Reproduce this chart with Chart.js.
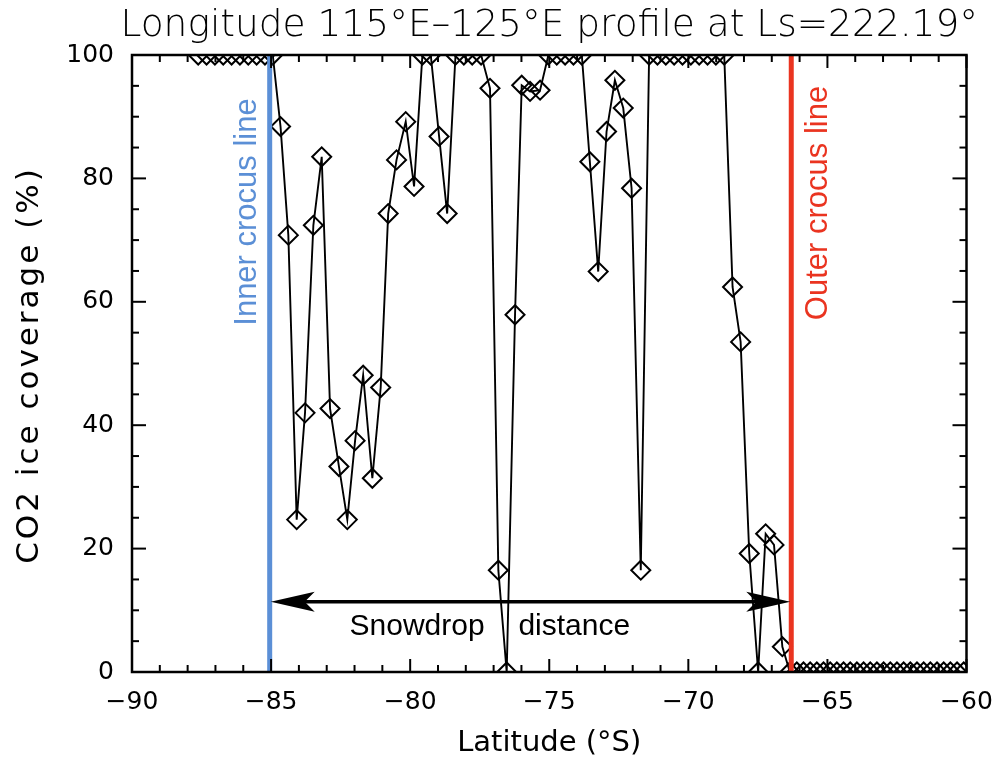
<!DOCTYPE html>
<html><head><meta charset="utf-8">
<script src="https://cdn.jsdelivr.net/npm/chart.js@4"></script>
<style>html,body{margin:0;padding:0;background:#fff;overflow:hidden;} canvas{display:block;}</style>
</head><body>
<canvas id="c" width="1002" height="763"></canvas>
<script>
// ---- data ----
const latitude = [
  -87.62, -87.32, -87.02, -86.72, -86.42, -86.12, -85.82, -85.52, -85.22, -84.94,
  -84.66, -84.38, -84.08, -83.78, -83.48, -83.18, -82.88, -82.56, -82.26, -81.98,
  -81.69, -81.36, -81.06, -80.79, -80.49, -80.16, -79.86, -79.56, -79.26, -78.96,
  -78.67, -78.37, -78.07, -77.77, -77.45, -77.13, -76.83, -76.53, -76.23, -75.99,
  -75.69, -75.33, -75.03, -74.73, -74.43, -74.13, -73.83, -73.54, -73.24, -72.94,
  -72.64, -72.34, -72.04, -71.71, -71.41, -71.11, -70.81, -70.51, -70.21, -69.91,
  -69.61, -69.31, -69.01, -68.71, -68.41, -68.12, -67.81, -67.49, -67.22, -66.92,
  -66.62, -66.35, -66.10, -65.86, -65.62, -65.38, -65.14, -64.90, -64.66, -64.42,
  -64.18, -63.94, -63.70, -63.46, -63.22, -62.98, -62.74, -62.50, -62.26, -62.02,
  -61.78, -61.54, -61.30, -61.06, -60.82, -60.58, -60.34, -60.10
];
const coverage = [
  100, 100, 100, 100, 100, 100, 100, 100, 100, 100,
  88.4, 70.8, 24.7, 42.0, 72.4, 83.5, 42.7, 33.3, 24.7, 37.5,
  48.1, 31.4, 46.1, 74.3, 83.0, 89.2, 78.7, 100, 100, 86.8,
  74.3, 100, 100, 100, 100, 94.6, 16.5, 0, 57.9, 95.1,
  94.1, 94.3, 100, 100, 100, 100, 100, 82.7, 64.9, 87.6,
  95.9, 91.4, 78.4, 16.5, 100, 100, 100, 100, 100, 100,
  100, 100, 100, 100, 62.4, 53.5, 19.2, 0, 22.4, 20.6,
  4.1, 0, 0, 0, 0, 0, 0, 0, 0, 0,
  0, 0, 0, 0, 0, 0, 0, 0, 0, 0,
  0, 0, 0, 0, 0, 0, 0, 0
];
const xTickValues = [-90, -85, -80, -75, -70, -65, -60];
const yTickValues = [0, 20, 40, 60, 80, 100];
const innerCrocusLat = -85.05;
const outerCrocusLat = -66.3;
const snowdropLevel = 11.4;
const titleText = 'Longitude 115°E–125°E profile at Ls=222.19°';
const xTitle = 'Latitude (°S)';
const yTitle = 'CO2 ice coverage (%)';
const innerLabel = 'Inner crocus line';
const outerLabel = 'Outer crocus line';
const snowdropWords = ['Snowdrop', 'distance'];

const BLUE = 'rgb(91,143,214)';
const RED = 'rgb(234,52,32)';
const FONT = "'DejaVu Sans', sans-serif";
const AFONT = "'Liberation Sans', Arial, sans-serif";

const points = latitude.map((x, i) => ({x, y: coverage[i]}));

function seg(ctx, x1, y1, x2, y2) { ctx.beginPath(); ctx.moveTo(x1, y1); ctx.lineTo(x2, y2); ctx.stroke(); }

function arrowHead(ctx, tipX, y, dir) {
  const L = 44, W = 10, N = 34;
  ctx.beginPath();
  ctx.moveTo(tipX, y);
  ctx.lineTo(tipX - dir * L, y - W);
  ctx.lineTo(tipX - dir * N, y);
  ctx.lineTo(tipX - dir * L, y + W);
  ctx.closePath();
  ctx.fill();
}

const decor = {
  id: 'decor',
  afterDatasetsDraw(chart) {
    const {ctx, chartArea: a, scales: {x, y}} = chart;
    ctx.save();
    // snowdrop arrow
    const xl = x.getPixelForValue(innerCrocusLat) + 1;
    const xr = x.getPixelForValue(outerCrocusLat) - 1;
    const ya = y.getPixelForValue(snowdropLevel);
    ctx.strokeStyle = '#000'; ctx.fillStyle = '#000'; ctx.lineWidth = 3.5;
    seg(ctx, xl + 30, ya, xr - 30, ya);
    arrowHead(ctx, xl, ya, -1);
    arrowHead(ctx, xr, ya, 1);
    // snowdrop text
    ctx.font = '30px ' + AFONT;
    ctx.textAlign = 'center'; ctx.textBaseline = 'alphabetic';
    ctx.fillText(snowdropWords[0], x.getPixelForValue(-79.75), 635);
    ctx.fillText(snowdropWords[1], x.getPixelForValue(-74.1), 635);
    // crocus labels
    ctx.font = '31px ' + AFONT;
    ctx.textBaseline = 'middle';
    ctx.save();
    ctx.translate(x.getPixelForValue(innerCrocusLat) - 22, 212);
    ctx.rotate(-Math.PI / 2);
    ctx.fillStyle = BLUE; ctx.fillText(innerLabel, 0, 0);
    ctx.restore();
    ctx.save();
    ctx.translate(x.getPixelForValue(outerCrocusLat) + 27, 203);
    ctx.rotate(-Math.PI / 2);
    ctx.fillStyle = RED; ctx.fillText(outerLabel, 0, 0);
    ctx.restore();
    // ticks (inward)
    ctx.strokeStyle = '#000'; ctx.lineWidth = 2;
    for (let v = -90; v <= -60; v += 1) {
      const px = x.getPixelForValue(v);
      const L = (v % 5 === 0) ? 13 : 7;
      seg(ctx, px, a.bottom, px, a.bottom - L);
      seg(ctx, px, a.top, px, a.top + L);
    }
    for (let v = 0; v <= 100; v += 5) {
      const py = y.getPixelForValue(v);
      const L = (v % 20 === 0) ? 14 : 7;
      seg(ctx, a.left, py, a.left + L, py);
      seg(ctx, a.right, py, a.right - L, py);
    }
    // frame
    ctx.lineWidth = 2.5;
    ctx.strokeRect(a.left, a.top, a.right - a.left, a.bottom - a.top);
    // titles
    ctx.fillStyle = '#000';
    ctx.textAlign = 'center';
    ctx.font = '200 37.5px ' + FONT;
    ctx.textBaseline = 'alphabetic';
    ctx.fillText(titleText, (a.left + a.right) / 2, 36);
    ctx.font = '29px ' + FONT;
    ctx.textBaseline = 'middle';
    ctx.fillText(xTitle, (a.left + a.right) / 2, 743);
    ctx.save();
    ctx.translate(30, 365);
    ctx.rotate(-Math.PI / 2);
    ctx.font = '31px ' + FONT;
    ctx.letterSpacing = '3px';
    ctx.fillText(yTitle, 0, 0);
    ctx.restore();
    ctx.restore();
  }
};

new Chart(document.getElementById('c'), {
  type: 'scatter',
  data: {
    datasets: [
      {
        data: [{x: innerCrocusLat, y: 0}, {x: innerCrocusLat, y: 100}],
        showLine: true, borderColor: BLUE, borderWidth: 5, pointRadius: 0, order: 0
      },
      {
        data: [{x: outerCrocusLat, y: 0}, {x: outerCrocusLat, y: 100}],
        showLine: true, borderColor: RED, borderWidth: 5, pointRadius: 0, order: 0
      },
      {
        data: points,
        showLine: true, borderColor: '#000', borderWidth: 1.9,
        pointStyle: 'rectRot', pointRadius: 9.5, pointBorderWidth: 2,
        pointBorderColor: '#000', pointBackgroundColor: 'rgba(0,0,0,0)',
        order: 1
      }
    ]
  },
  options: {
    responsive: false, animation: false, devicePixelRatio: 1,
    layout: {padding: {top: 55, right: 35.5, left: 0, bottom: 0}},
    plugins: {legend: {display: false}, tooltip: {enabled: false}, title: {display: false}},
    scales: {
      x: {
        type: 'linear', min: -90, max: -60,
        afterFit(s) { s.height = 91; s.paddingLeft = 0; s.paddingRight = 0; },
        afterBuildTicks(s) { s.ticks = xTickValues.map(v => ({value: v})); },
        grid: {display: false, drawTicks: false},
        border: {display: false},
        ticks: {
          padding: 15, color: '#000', maxRotation: 0,
          font: {family: FONT, size: 25},
          callback: v => (v < 0 ? '\u2212' + Math.abs(v) : String(v))
        }
      },
      y: {
        type: 'linear', min: 0, max: 100,
        afterFit(s) { s.width = 132; s.paddingTop = 0; s.paddingBottom = 0; },
        afterBuildTicks(s) { s.ticks = yTickValues.map(v => ({value: v})); },
        grid: {display: false, drawTicks: false},
        border: {display: false},
        ticks: {padding: 18, color: '#000', font: {family: FONT, size: 25}}
      }
    }
  },
  plugins: [decor]
});
</script>
</body></html>
